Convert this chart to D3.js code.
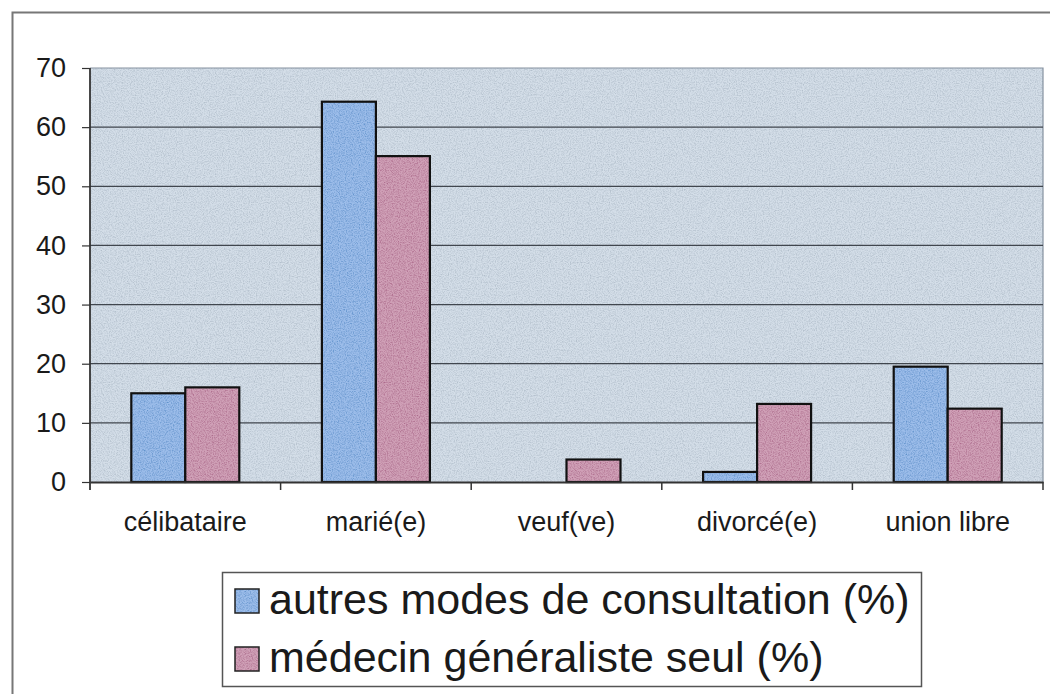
<html>
<meta charset="utf-8" />
<head>
<title>statut marital</title>
<script src="https://cdn.jsdelivr.net/npm/d3@7"></script>
<style>
	body { margin: 0; background: #fff; }
	text { font-family: "Liberation Sans", Arial, sans-serif; fill: #1a1a1a; }
</style>
<script>
// données
const categories = ['célibataire', 'marié(e)', 'veuf(ve)', 'divorcé(e)', 'union libre'];
const seriesNames = ['autres modes de consultation (%)', 'médecin généraliste seul (%)'];
const autresModes = [15, 64.3, 0, 1.7, 19.5];
const medecinSeul = [16, 55.1, 3.8, 13.2, 12.4];
const yTicks = [0, 10, 20, 30, 40, 50, 60, 70];

window.onload = function() {
	const svg = d3.select('svg');
	const colors = ['#5d9ee2', '#bc6894'];

	// léger grain type photocopie (taches claires et sombres)
	let filter = svg.append('defs').append('filter').attr('id', 'grain')
	.attr('x', 0).attr('y', 0).attr('width', 1).attr('height', 1);
	filter.append('feTurbulence').attr('type', 'fractalNoise').attr('baseFrequency', 0.85).attr('numOctaves', 2).attr('seed', 5).attr('result', 'noise');
	filter.append('feColorMatrix').attr('in', 'noise').attr('type', 'matrix')
	.attr('values', '1.7 0 0 0 -0.05  1.7 0 0 0 -0.05  1.7 0 0 0 -0.05  0 0 0 0 0.25').attr('result', 'speck');
	filter.append('feComposite').attr('in', 'speck').attr('in2', 'SourceGraphic').attr('operator', 'atop').attr('result', 'mix');
	filter.append('feMerge').call((m) => {
		m.append('feMergeNode').attr('in', 'SourceGraphic');
		m.append('feMergeNode').attr('in', 'mix');
	});

	// cadre extérieur
	svg.append('rect')
	.attr('x', 12.5).attr('y', 12.5).attr('width', 1060).attr('height', 700)
	.attr('fill', '#fff').attr('stroke', '#777').attr('stroke-width', 2);

	const xScale = d3.scaleBand().domain(categories).range([90, 1043]);
	const yScale = d3.scaleLinear().domain([0, 70]).range([482, 68]);
	const inner = d3.scaleBand().domain([0, 1]).range([0, xScale.bandwidth()]).paddingInner(0).paddingOuter(0.765);

	// fond de la zone de tracé
	svg.append('rect')
	.attr('x', 90).attr('y', yScale(70)).attr('width', 1043 - 90).attr('height', yScale(0) - yScale(70))
	.attr('fill', '#c2d1e0').attr('filter', 'url(#grain)');
	svg.append('path')
	.attr('d', 'M90,' + yScale(70) + 'H1043V' + yScale(0))
	.attr('fill', 'none').attr('stroke', '#8592a0').attr('stroke-width', 1.2);

	// grille
	svg.append('g').selectAll('line.grid')
	.data(yTicks.filter((d) => d > 0 && d < 70)).enter()
	.append('line')
	.attr('x1', 90).attr('x2', 1043)
	.attr('y1', (d) => yScale(d)).attr('y2', (d) => yScale(d))
	.attr('stroke', '#40464e')
	.attr('stroke-width', 1.2);

	// barres : aplat granuleux puis contour
	const rows = categories.map((c, i) => ({ cat: c, vals: [autresModes[i], medecinSeul[i]] }));
	let groups = svg.selectAll('g.cat')
	.data(rows).enter()
	.append('g')
	.attr('class', 'cat')
	.attr('transform', (d) => 'translate(' + xScale(d.cat) + ',0)');

	let bars = groups.selectAll('g.bar')
	.data((d) => d.vals.map((v, k) => ({ k: k, v: v })).filter((d) => d.v > 0))
	.enter()
	.append('g').attr('class', 'bar');

	bars.append('rect')
	.attr('x', (d) => inner(d.k))
	.attr('width', inner.bandwidth())
	.attr('y', (d) => yScale(d.v))
	.attr('height', (d) => yScale(0) - yScale(d.v))
	.attr('fill', (d) => colors[d.k])
	.attr('filter', 'url(#grain)');

	bars.append('rect')
	.attr('x', (d) => inner(d.k))
	.attr('width', inner.bandwidth())
	.attr('y', (d) => yScale(d.v))
	.attr('height', (d) => yScale(0) - yScale(d.v))
	.attr('fill', 'none')
	.attr('stroke', '#111')
	.attr('stroke-width', 2.2);

	// axe des y
	let yAxis = d3.axisLeft(yScale).tickValues(yTicks).tickSize(8).tickPadding(16);
	let yG = svg.append('g').attr('transform', 'translate(90,0)').call(yAxis);
	yG.select('.domain').attr('stroke', '#333').attr('stroke-width', 1.8).attr('d', 'M0,' + yScale(70) + 'V490');
	yG.selectAll('.tick line').attr('stroke', '#333').attr('stroke-width', 1.2);
	yG.selectAll('.tick text').attr('font-size', 27).attr('font-family', '"Liberation Sans", Arial, sans-serif').attr('fill', '#1a1a1a');

	// axe des x
	let xAxis = d3.axisBottom(xScale).tickSize(0).tickPadding(30);
	let xG = svg.append('g').attr('transform', 'translate(0,482)').call(xAxis);
	xG.select('.domain').attr('stroke', '#333').attr('stroke-width', 1.8);
	xG.selectAll('.tick text').attr('font-size', 27).attr('font-family', '"Liberation Sans", Arial, sans-serif').attr('fill', '#1a1a1a');

	// graduations entre catégories
	svg.append('g').selectAll('line.sep')
	.data(categories.slice(1).concat(['fin'])).enter()
	.append('line')
	.attr('x1', (d) => d === 'fin' ? 1043 : xScale(d))
	.attr('x2', (d) => d === 'fin' ? 1043 : xScale(d))
	.attr('y1', 482).attr('y2', 490)
	.attr('stroke', '#333').attr('stroke-width', 1.5);

	// légende
	let legend = svg.append('g');
	legend.append('rect')
	.attr('x', 222.5).attr('y', 572.5).attr('width', 699).attr('height', 114)
	.attr('fill', '#fff').attr('stroke', '#555').attr('stroke-width', 1.5);

	let items = legend.selectAll('g.item')
	.data(seriesNames).enter()
	.append('g')
	.attr('class', 'item')
	.attr('transform', (d, i) => 'translate(235,' + (614 + i * 58) + ')');

	items.append('rect')
	.attr('width', 24).attr('height', 24).attr('y', -25)
	.attr('fill', (d, i) => colors[i])
	.attr('filter', 'url(#grain)');
	items.append('rect')
	.attr('width', 24).attr('height', 24).attr('y', -25)
	.attr('fill', 'none')
	.attr('stroke', '#222').attr('stroke-width', 1.5);

	items.append('text')
	.attr('x', 34).attr('y', 0)
	.attr('font-size', 43)
	.text((d) => d);
}
</script>
</head>
<body>
<svg width="1050" height="694" style="display:block"></svg>
</body>
</html>
